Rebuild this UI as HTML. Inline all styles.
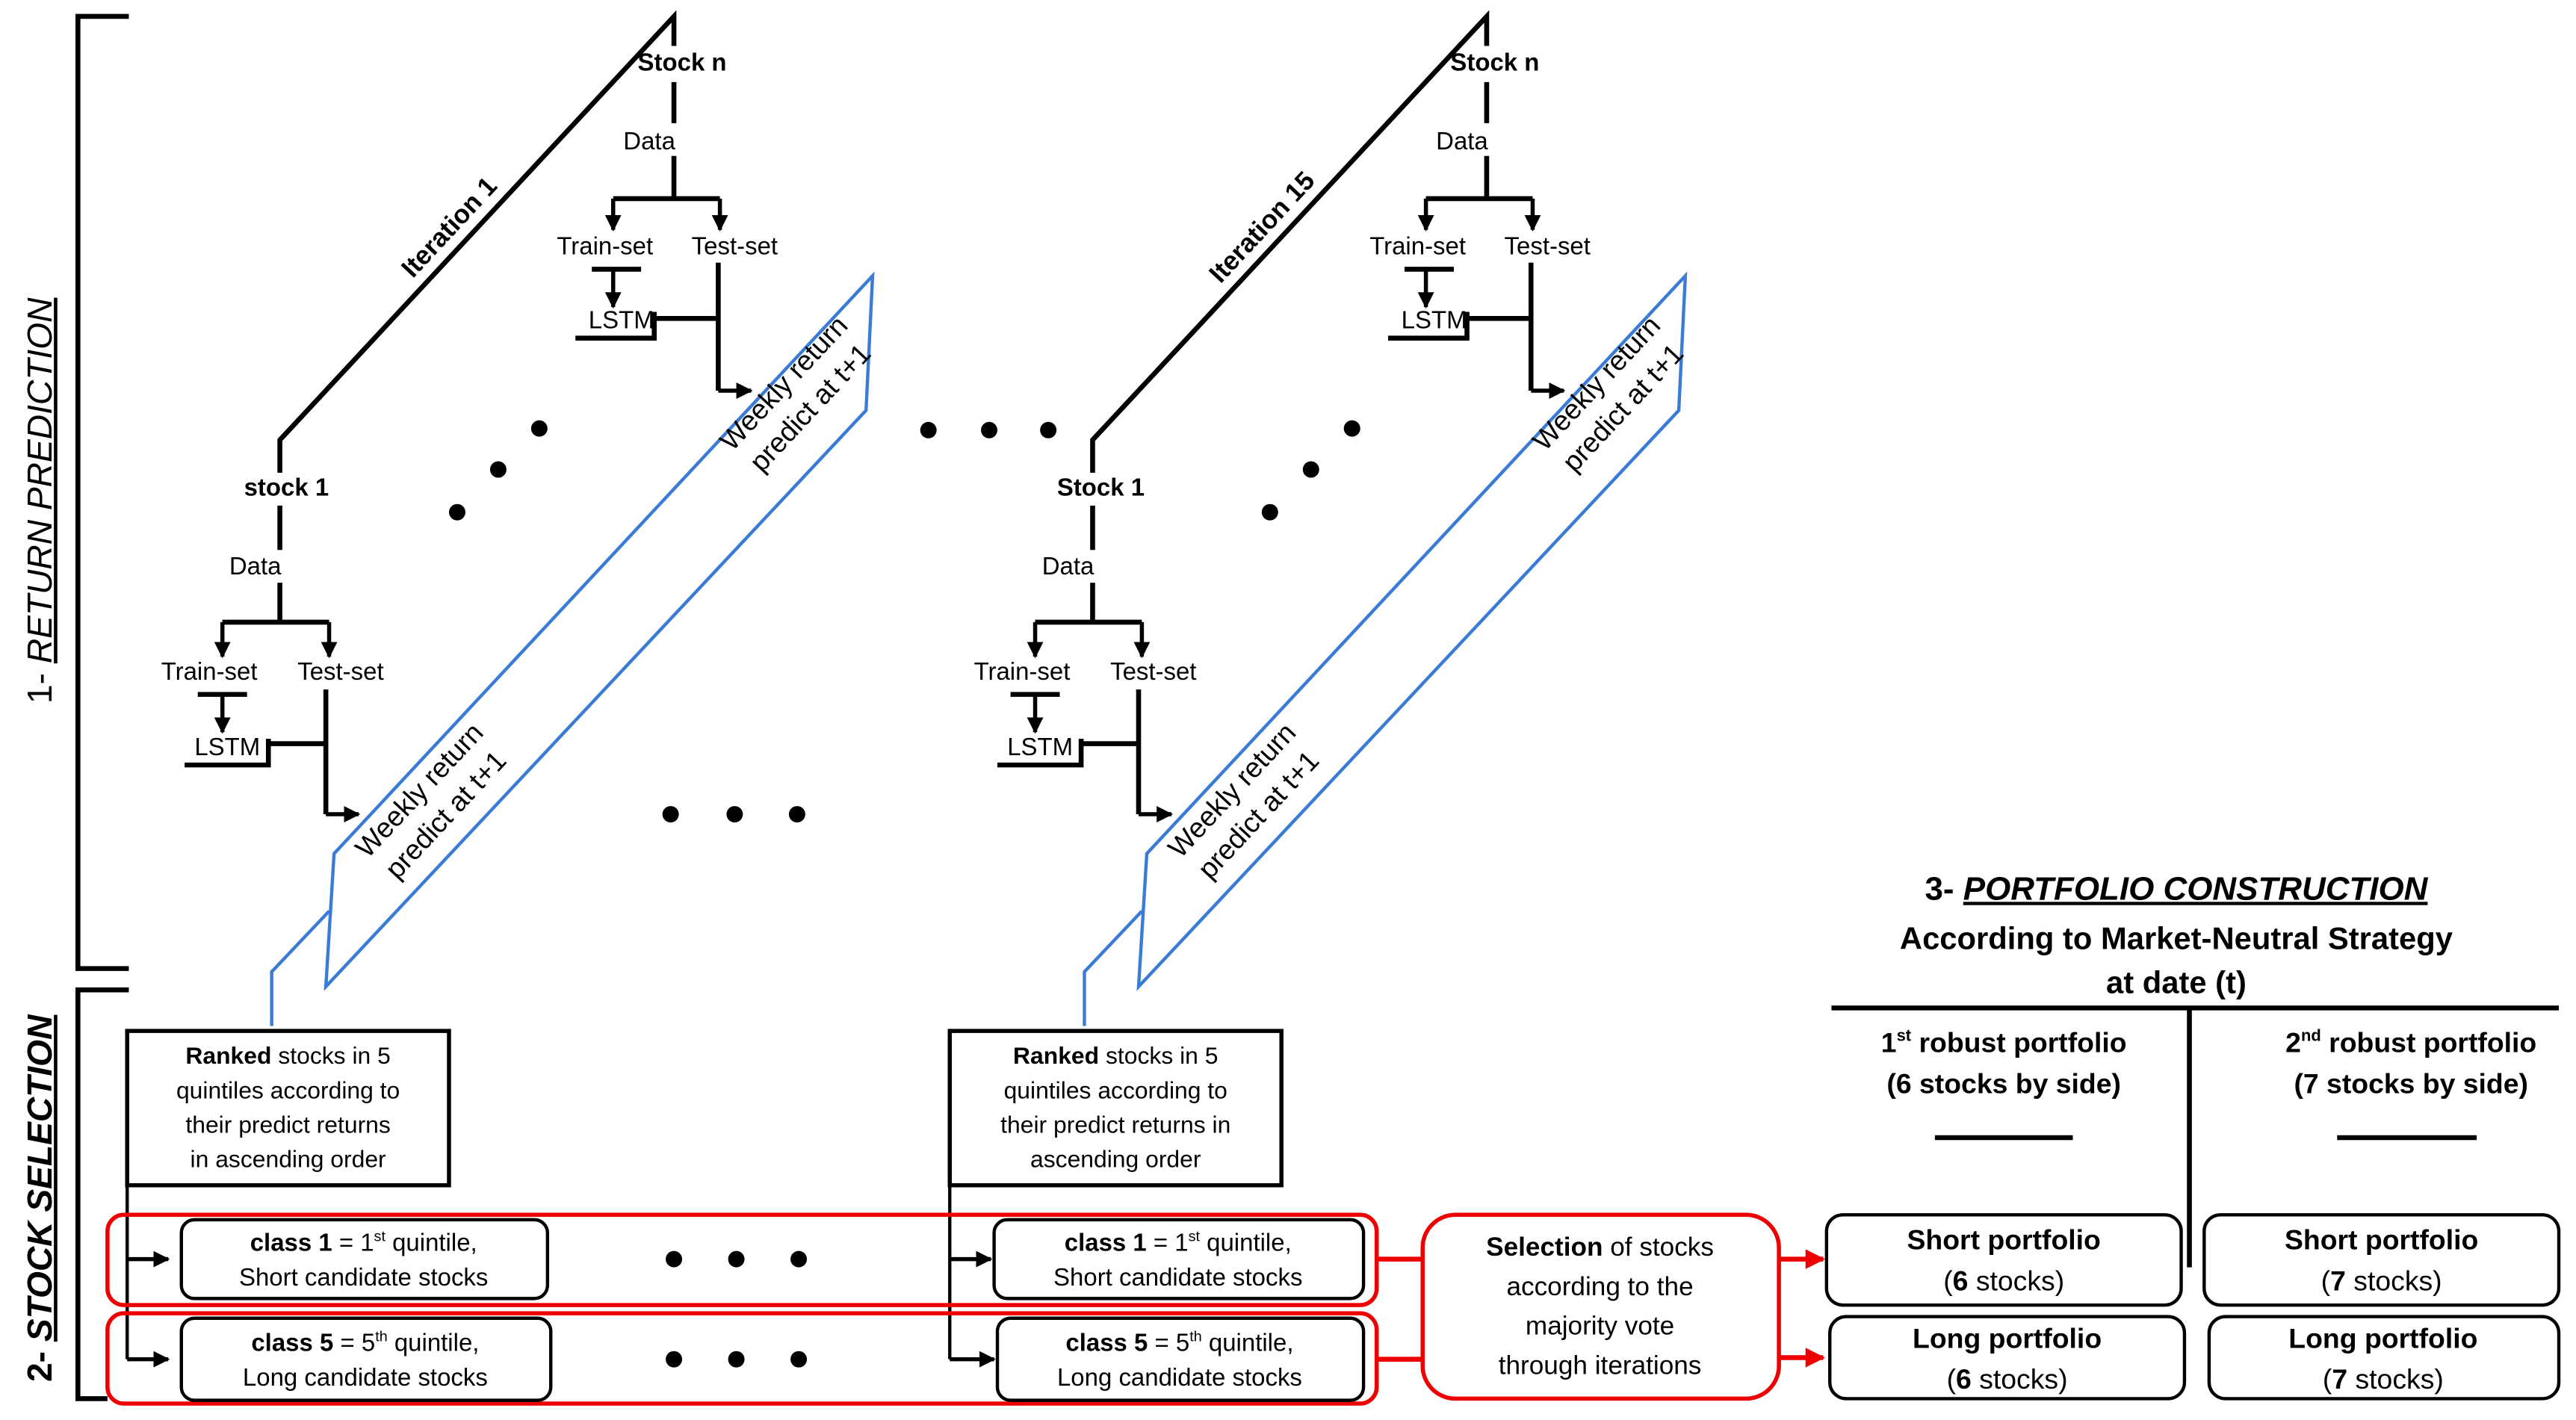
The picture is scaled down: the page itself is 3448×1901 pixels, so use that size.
<!DOCTYPE html>
<html><head><meta charset="utf-8"><style>
html,body{margin:0;padding:0;background:#fff;}
svg{display:block;}
text{font-family:"Liberation Sans",sans-serif;fill:#000;}
</style></head><body>
<svg width="3448" height="1901" viewBox="0 0 1568 865" xmlns="http://www.w3.org/2000/svg">
<defs>
<marker id="ab" viewBox="0 0 10 10" refX="9" refY="5" markerWidth="4" markerHeight="4" orient="auto"><path d="M0,0L10,5L0,10z" fill="#000"/></marker>
<marker id="ar" viewBox="0 0 10 10" refX="9" refY="5" markerWidth="4" markerHeight="4" orient="auto"><path d="M0,0L10,5L0,10z" fill="#e00"/></marker>
</defs>
<rect width="1568" height="865" fill="#fff"/>
<!-- brackets -->
<path d="M78,10 H47 V590 H78" fill="none" stroke="#000" stroke-width="3"/>
<path d="M78,603 H47 V852 H65" fill="none" stroke="#000" stroke-width="3"/>
<text transform="translate(31,305) rotate(-90)" text-anchor="middle" font-size="21">1- <tspan font-style="italic" text-decoration="underline">RETURN PREDICTION</tspan></text>
<text transform="translate(31,730) rotate(-90)" text-anchor="middle" font-size="21" font-weight="bold">2- <tspan font-style="italic" text-decoration="underline">STOCK SELECTION</tspan></text>

<g id="it">
<path d="M170,288 V268 L410,10 V28" fill="none" stroke="#000" stroke-width="3"/>
<!-- stock n -->
<text x="415" y="43" text-anchor="middle" font-size="15" font-weight="bold">Stock n</text>
<path d="M410,50V75 M410,95V121 M373,121H438" stroke="#000" stroke-width="3" fill="none"/>
<text x="395" y="91" text-anchor="middle" font-size="15">Data</text>
<path d="M373,121V140" stroke="#000" stroke-width="2.5" marker-end="url(#ab)"/>
<path d="M438,121V140" stroke="#000" stroke-width="2.5" marker-end="url(#ab)"/>
<text x="368" y="155" text-anchor="middle" font-size="15">Train-set</text>
<text x="447" y="155" text-anchor="middle" font-size="15">Test-set</text>
<path d="M360,164H390" stroke="#000" stroke-width="3"/>
<path d="M373,164V187" stroke="#000" stroke-width="2.5" marker-end="url(#ab)"/>
<text x="378" y="200" text-anchor="middle" font-size="15">LSTM</text>
<path d="M350,206H398V190 M398,194H437 M437,160V238" stroke="#000" stroke-width="3" fill="none"/>
<path d="M437,238H457" stroke="#000" stroke-width="2.5" marker-end="url(#ab)"/>
<!-- stock 1 -->
<path d="M170,308V335 M170,355V379 M135,379H200" stroke="#000" stroke-width="3" fill="none"/>
<text x="155" y="350" text-anchor="middle" font-size="15">Data</text>
<path d="M135,379V400" stroke="#000" stroke-width="2.5" marker-end="url(#ab)"/>
<path d="M200,379V400" stroke="#000" stroke-width="2.5" marker-end="url(#ab)"/>
<text x="127" y="414" text-anchor="middle" font-size="15">Train-set</text>
<text x="207" y="414" text-anchor="middle" font-size="15">Test-set</text>
<path d="M120,423H150" stroke="#000" stroke-width="3"/>
<path d="M135,423V446" stroke="#000" stroke-width="2.5" marker-end="url(#ab)"/>
<text x="138" y="460" text-anchor="middle" font-size="15">LSTM</text>
<path d="M112,466H163V450 M163,453H198 M198,420V496" stroke="#000" stroke-width="3" fill="none"/>
<path d="M198,496H218" stroke="#000" stroke-width="2.5" marker-end="url(#ab)"/>
<!-- blue -->
<path d="M203,520 L531,168 L527,250 L198,601 Z" fill="none" stroke="#3a7bd5" stroke-width="2"/>
<path d="M165,625 V592 L200,555" fill="none" stroke="#3a7bd5" stroke-width="2"/>
<g transform="translate(262,488) rotate(-47)"><text text-anchor="middle" font-size="17" y="-4">Weekly return</text><text text-anchor="middle" font-size="17" y="18">predict at t+1</text></g>
<g transform="translate(484,240) rotate(-47)"><text text-anchor="middle" font-size="17" y="-4">Weekly return</text><text text-anchor="middle" font-size="17" y="18">predict at t+1</text></g>
<circle cx="278" cy="312" r="5"/><circle cx="303" cy="286" r="5"/><circle cx="328" cy="261" r="5"/>
</g>
<use href="#it" transform="translate(495,0)"/>
<text x="174" y="302" text-anchor="middle" font-size="15" font-weight="bold">stock 1</text>
<text x="670" y="302" text-anchor="middle" font-size="15" font-weight="bold">Stock 1</text>
<text transform="translate(277,142) rotate(-47)" text-anchor="middle" font-size="16" font-weight="bold">Iteration 1</text>
<text transform="translate(772,142) rotate(-47)" text-anchor="middle" font-size="16" font-weight="bold">Iteration 15</text>

<circle cx="565" cy="262" r="5"/><circle cx="602" cy="262" r="5"/><circle cx="638" cy="262" r="5"/>
<circle cx="408" cy="496" r="5"/><circle cx="447" cy="496" r="5"/><circle cx="485" cy="496" r="5"/>

<!-- section 2 -->
<rect x="77" y="628" width="196" height="94" fill="#fff" stroke="#000" stroke-width="2.5"/>
<g font-size="14.5" text-anchor="middle">
<text x="175" y="648"><tspan font-weight="bold">Ranked</tspan> stocks in 5</text>
<text x="175" y="669">quintiles according to</text>
<text x="175" y="690">their predict returns</text>
<text x="175" y="711">in ascending order</text>
</g>
<rect x="578" y="628" width="202" height="94" fill="#fff" stroke="#000" stroke-width="2.5"/>
<g font-size="14.5" text-anchor="middle">
<text x="679" y="648"><tspan font-weight="bold">Ranked</tspan> stocks in 5</text>
<text x="679" y="669">quintiles according to</text>
<text x="679" y="690">their predict returns in</text>
<text x="679" y="711">ascending order</text>
</g>
<path d="M77,722V828 M578,722V828" stroke="#000" stroke-width="2" fill="none"/>
<path d="M77,767H102" stroke="#000" stroke-width="2.5" marker-end="url(#ab)"/>
<path d="M77,828H102" stroke="#000" stroke-width="2.5" marker-end="url(#ab)"/>
<path d="M578,767H603" stroke="#000" stroke-width="2.5" marker-end="url(#ab)"/>
<path d="M578,828H605" stroke="#000" stroke-width="2.5" marker-end="url(#ab)"/>
<rect x="65" y="740" width="773" height="55" rx="10" fill="none" stroke="#e00" stroke-width="2.5"/>
<rect x="65" y="800" width="773" height="55" rx="10" fill="none" stroke="#e00" stroke-width="2.5"/>
<g fill="#fff" stroke="#000" stroke-width="2">
<rect x="110" y="743" width="223" height="48" rx="8"/>
<rect x="110" y="803" width="225" height="50" rx="8"/>
<rect x="605" y="743" width="225" height="48" rx="8"/>
<rect x="607" y="803" width="223" height="50" rx="8"/>
</g>
<g font-size="15" text-anchor="middle">
<text x="221" y="762"><tspan font-weight="bold">class 1</tspan> = 1<tspan font-size="9" dy="-6">st</tspan><tspan dy="6"> quintile,</tspan></text>
<text x="221" y="783">Short candidate stocks</text>
<text x="222" y="823"><tspan font-weight="bold">class 5</tspan> = 5<tspan font-size="9" dy="-6">th</tspan><tspan dy="6"> quintile,</tspan></text>
<text x="222" y="844">Long candidate stocks</text>
<text x="717" y="762"><tspan font-weight="bold">class 1</tspan> = 1<tspan font-size="9" dy="-6">st</tspan><tspan dy="6"> quintile,</tspan></text>
<text x="717" y="783">Short candidate stocks</text>
<text x="718" y="823"><tspan font-weight="bold">class 5</tspan> = 5<tspan font-size="9" dy="-6">th</tspan><tspan dy="6"> quintile,</tspan></text>
<text x="718" y="844">Long candidate stocks</text>
</g>
<circle cx="410" cy="767" r="5"/><circle cx="448" cy="767" r="5"/><circle cx="486" cy="767" r="5"/>
<circle cx="410" cy="828" r="5"/><circle cx="448" cy="828" r="5"/><circle cx="486" cy="828" r="5"/>
<path d="M838,767H866 M838,828H866" stroke="#e00" stroke-width="3"/>
<rect x="866" y="740" width="217" height="112" rx="20" fill="#fff" stroke="#e00" stroke-width="2.5"/>
<g font-size="16" text-anchor="middle">
<text x="974" y="765"><tspan font-weight="bold">Selection</tspan> of stocks</text>
<text x="974" y="789">according to the</text>
<text x="974" y="813">majority vote</text>
<text x="974" y="837">through iterations</text>
</g>
<path d="M1083,767H1110" stroke="#e00" stroke-width="3" marker-end="url(#ar)"/>
<path d="M1083,827H1110" stroke="#e00" stroke-width="3" marker-end="url(#ar)"/>

<!-- section 3 -->
<g text-anchor="middle">
<text x="1325" y="548" font-size="20" font-weight="bold">3- <tspan font-style="italic" text-decoration="underline">PORTFOLIO CONSTRUCTION</tspan></text>
<text x="1325" y="578" font-size="19" font-weight="bold">According to Market-Neutral Strategy</text>
<text x="1325" y="605" font-size="19" font-weight="bold">at date (t)</text>
</g>
<path d="M1115,614H1558 M1333,614V772 M1178,693H1262 M1423,693H1508" stroke="#000" stroke-width="3"/>
<g font-size="17" font-weight="bold" text-anchor="middle">
<text x="1220" y="641">1<tspan font-size="10" dy="-7">st</tspan><tspan dy="7"> robust portfolio</tspan></text>
<text x="1220" y="666">(6 stocks by side)</text>
<text x="1468" y="641">2<tspan font-size="10" dy="-7">nd</tspan><tspan dy="7"> robust portfolio</tspan></text>
<text x="1468" y="666">(7 stocks by side)</text>
</g>
<g fill="#fff" stroke="#000" stroke-width="2">
<rect x="1112" y="740" width="216" height="55" rx="10"/>
<rect x="1342" y="740" width="216" height="55" rx="10"/>
<rect x="1114" y="802" width="216" height="50" rx="10"/>
<rect x="1345" y="802" width="213" height="50" rx="10"/>
</g>
<g font-size="17" text-anchor="middle">
<text x="1220" y="761" font-weight="bold">Short portfolio</text>
<text x="1220" y="786">(<tspan font-weight="bold">6</tspan> stocks)</text>
<text x="1450" y="761" font-weight="bold">Short portfolio</text>
<text x="1450" y="786">(<tspan font-weight="bold">7</tspan> stocks)</text>
<text x="1222" y="821" font-weight="bold">Long portfolio</text>
<text x="1222" y="846">(<tspan font-weight="bold">6</tspan> stocks)</text>
<text x="1451" y="821" font-weight="bold">Long portfolio</text>
<text x="1451" y="846">(<tspan font-weight="bold">7</tspan> stocks)</text>
</g>
</svg>
</body></html>
